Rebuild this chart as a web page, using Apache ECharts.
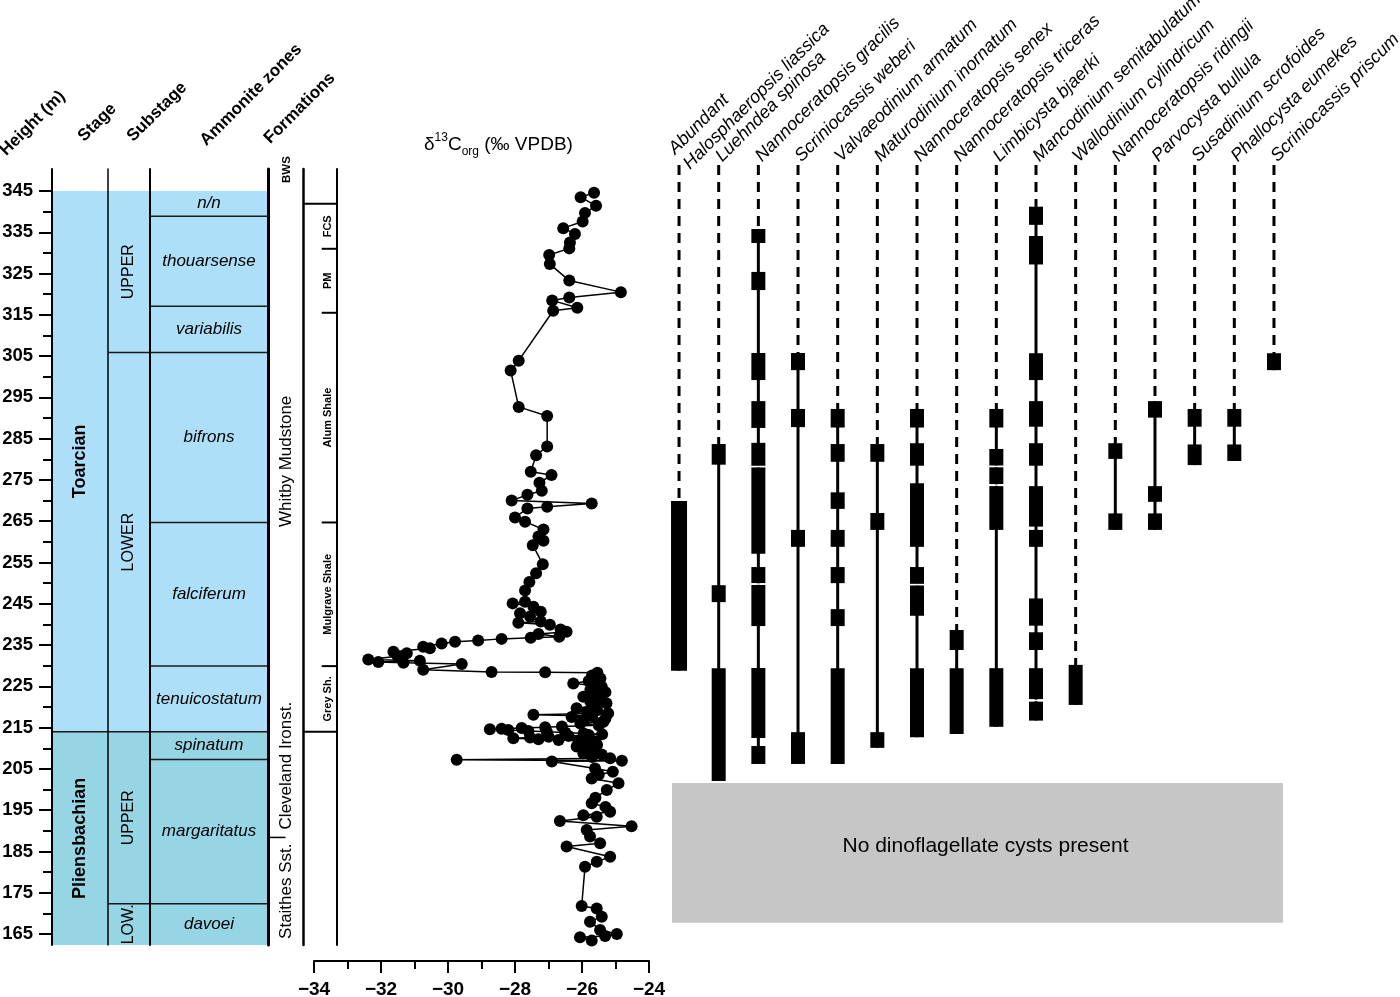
<!DOCTYPE html>
<html><head><meta charset="utf-8">
<script src="https://cdn.jsdelivr.net/npm/echarts@6/dist/echarts.min.js"></script>
<style>html,body{margin:0;padding:0;background:#fff}#c{width:1400px;height:997px}</style>
</head><body><div id="c"></div><script>
// ================= DATA =================
const heightTicks = [165,175,185,195,205,215,225,235,245,255,265,275,285,295,305,315,325,335,345];
const minorHeightTicks = [170,180,190,200,210,220,230,240,250,260,270,280,290,300,310,320,330,340];
const isoTicks = [-34,-32,-30,-28,-26,-24];

// [name, base (m), top (m), stage]
const stages = [
  ['Toarcian', 214, 345, 'Toarcian'],
  ['Pliensbachian', 162.34, 214, 'Pliensbachian']
];
const substages = [
  ['UPPER', 305.9, 345, 'Toarcian'],
  ['LOWER', 214, 305.9, 'Toarcian'],
  ['UPPER', 172.35, 214, 'Pliensbachian'],
  ['LOW.', 162.34, 172.35, 'Pliensbachian']
];
const ammoniteZones = [
  ['n/n', 338.9, 345, 'Toarcian'],
  ['thouarsense', 317.1, 338.9, 'Toarcian'],
  ['variabilis', 305.9, 317.1, 'Toarcian'],
  ['bifrons', 264.7, 305.9, 'Toarcian'],
  ['falciferum', 229.9, 264.7, 'Toarcian'],
  ['tenuicostatum', 214, 229.9, 'Toarcian'],
  ['spinatum', 207.3, 214, 'Pliensbachian'],
  ['margaritatus', 172.35, 207.3, 'Pliensbachian'],
  ['davoei', 162.34, 172.35, 'Pliensbachian']
];
const formations = [
  ['BWS', 345, 350.33],
  ['Whitby Mudstone', 214, 345],
  ['Cleveland Ironst.', 188.4, 214],
  ['Staithes Sst.', 162.34, 188.4]
];
const formationBoundaries = [188.4];
const members = [
  ['FCS', 331, 341.9],
  ['PM', 315.5, 331],
  ['Alum Shale', 264.7, 315.5],
  ['Mulgrave Shale', 229.9, 264.7],
  ['Grey Sh.', 214, 229.9]
];

// δ13Corg samples: height (m) and value (‰ VPDB)
const d13cHeight = [344.6,343.5,341.4,339.7,337.6,336.0,334.6,332.5,331.1,329.5,327.3,323.3,320.5,319.2,318.5,316.7,316.0,
  303.9,301.5,292.7,290.5,283.1,281.0,277.0,276.2,274.3,272.4,271.4,270.0,269.3,268.5,268.1,265.9,264.9,263.0,261.3,260.3,259.2,
  254.6,252.4,250.3,248.2,245.5,245.1,244.3,243.1,242.7,241.9,240.7,240.4,239.9,238.8,238.2,237.7,237.0,236.8,236.5,236.1,235.8,
  235.4,234.6,234.2,233.4,233.0,232.3,231.5,231.2,230.9,230.7,230.4,229.0,228.5,228.4,228.3,227.6,226.9,226.3,225.7,225.2,224.9,
  224.2,223.6,223.0,222.5,221.9,221.3,220.9,220.3,219.7,219.2,218.8,218.5,218.1,217.8,217.6,217.2,216.8,216.4,216.0,215.6,215.3,
  215.1,214.9,214.7,214.6,214.4,214.2,214.0,213.8,213.6,213.4,213.2,213.0,212.8,212.6,212.4,212.2,212.0,211.8,211.6,211.2,210.8,
  210.4,210.0,209.6,209.2,208.8,208.5,207.9,207.6,207.2,207.0,206.8,205.1,204.3,203.6,202.7,201.5,199.9,198.0,196.7,195.8,194.6,
  193.8,193.4,192.4,191.1,190.2,188.6,187.0,186.2,183.7,182.5,181.3,171.8,171.2,169.2,168.0,166.0,165.0,164.5,164.2,163.4];
const d13cValue = [-25.64,-26.04,-25.58,-25.91,-25.98,-26.56,-26.21,-26.36,-26.38,-26.98,-26.96,-26.38,-24.84,-26.38,-26.89,-26.14,-26.86,
  -27.89,-28.13,-27.89,-27.04,-27.04,-27.37,-27.53,-26.91,-27.27,-27.20,-27.63,-28.10,-25.71,-27.04,-27.63,-28.00,-27.70,-27.15,-27.30,-27.15,-27.47,
  -27.17,-27.37,-27.57,-27.70,-27.70,-28.07,-27.45,-27.23,-27.85,-27.55,-27.23,-27.90,-26.96,-26.64,-26.46,-27.30,-26.68,-27.53,-28.40,-29.10,-29.79,
  -30.19,-30.74,-30.54,-31.63,-31.23,-31.50,-32.38,-30.84,-32.08,-31.33,-29.59,-30.74,-28.70,-27.10,-25.54,-25.70,-25.45,-25.80,-26.26,-25.60,-25.41,
  -25.75,-25.30,-25.55,-25.96,-25.45,-25.75,-25.27,-25.60,-26.16,-25.55,-25.85,-25.22,-27.45,-25.70,-26.31,-25.30,-25.95,-25.36,-26.05,-25.50,-26.60,
  -27.10,-27.80,-28.40,-28.75,-28.20,-27.60,-27.05,-26.50,-25.95,-25.40,-25.80,-26.40,-27.00,-27.55,-28.05,-27.30,-26.70,-26.10,-25.60,-25.90,-25.55,
  -26.16,-25.75,-25.95,-25.60,-25.96,-25.41,-25.70,-25.16,-29.74,-24.81,-26.90,-25.61,-25.08,-25.50,-25.71,-24.91,-25.26,-25.60,-25.71,-25.30,-25.16,
  -25.96,-25.56,-26.66,-24.52,-25.86,-25.76,-25.46,-26.46,-25.16,-25.56,-25.91,-26.01,-25.56,-25.41,-25.76,-25.46,-24.96,-25.31,-26.06,-25.71];

// Dinoflagellate cyst taxa and their occurrence intervals [base, top] (m)
const taxa = ['Abundant\nHalosphaeropsis liassica','Luehndea spinosa','Nannoceratopsis gracilis','Scriniocassis weberi',
  'Valvaeodinium armatum','Maturodinium inornatum','Nannoceratopsis senex','Nannoceratopsis triceras','Limbicysta bjaerki',
  'Mancodinium semitabulatum','Wallodinium cylindricum','Nannoceratopsis ridingii','Parvocysta bullula','Susadinium scrofoides',
  'Phallocysta eumekes','Scriniocassis priscum'];
const occurrences = [
  [[228.8,269.9]],
  [[278.7,283.7],[245.4,249.5],[202.1,229.4]],
  [[332.4,335.8],[321.0,325.4],[299.2,305.75],[287.6,294.1],[278.4,284.0],[257.1,278.1],[250.0,253.9],[239.6,249.55],[212.5,229.45],[206.2,210.55]],
  [[301.6,305.75],[287.8,292.2],[258.8,262.9],[206.2,213.9]],
  [[287.7,292.2],[279.4,283.7],[268.0,272.0],[258.8,262.9],[250.0,253.9],[239.6,243.7],[206.2,229.4]],
  [[279.4,283.7],[262.9,267.0],[210.1,213.9]],
  [[287.7,292.2],[278.45,283.9],[258.8,274.2],[249.8,253.9],[242.1,249.5],[212.65,229.4]],
  [[233.8,238.65],[213.45,229.4]],
  [[287.7,292.2],[278.45,282.5],[274.0,278.1],[262.9,273.5],[215.2,229.4]],
  [[336.8,341.2],[327.2,334.1],[299.2,305.7],[287.9,294.1],[278.45,283.9],[263.7,273.5],[258.8,262.9],[239.7,246.3],[233.8,238.1],[221.9,229.4],[216.7,221.3]],
  [[220.5,230.2]],
  [[280.1,283.9],[262.9,266.9]],
  [[290.1,294.1],[269.7,273.5],[262.9,266.9]],
  [[287.9,292.2],[278.6,283.6]],
  [[287.9,292.2],[279.6,283.6]],
  [[301.6,305.7]]
];
const noCystsInterval = [167.7, 201.6];

// ================= LAYOUT / STYLE =================
const FONT = '"Liberation Sans", Arial, Helvetica, sans-serif';
const Y_MIN = 162.34, COL_TOP = 350.33, RANGE_TOP = 351.3;
const STAGE_COLORS = {Toarcian: '#ade0f8', Pliensbachian: '#95d5e4'};
const TOP = 169, BOTTOM = 945, RTOP = 165;

const measureCtx = document.createElement('canvas').getContext('2d');
function textWidth(txt, font) { measureCtx.font = font; return measureCtx.measureText(txt).width; }

const gridDefs = [
  {left:52, width:56, top:TOP, height:BOTTOM-TOP},      // 0 stage
  {left:108, width:42, top:TOP, height:BOTTOM-TOP},     // 1 substage
  {left:150, width:118, top:TOP, height:BOTTOM-TOP},    // 2 ammonite zones
  {left:268, width:35, top:TOP, height:BOTTOM-TOP},     // 3 formations
  {left:303, width:34, top:TOP, height:BOTTOM-TOP},     // 4 members
  {left:314, width:335, top:TOP, height:BOTTOM-TOP},    // 5 d13C
  {left:659.2, width:634.6, top:RTOP, height:BOTTOM-RTOP} // 6 range chart
].map(g => Object.assign({containLabel:false, outerBoundsMode:'none', show:false}, g));

const hiddenX = gi => ({gridIndex:gi, type:'value', min:0, max:1, show:false});
const lineY = (gi, w, pos) => ({gridIndex:gi, type:'value', min:Y_MIN, max:COL_TOP, position:pos||'left',
  axisLine:{show:true, onZero:false, lineStyle:{color:'#000', width:w}}, axisTick:{show:false}, axisLabel:{show:false}, splitLine:{show:false}});

function bandSeries(xi, yi, items, cfg) {
  return {
    type:'custom', xAxisIndex:xi, yAxisIndex:yi, z:-1, silent:true, animation:false,
    data: items.map(d => [0.5, d[1]]),
    renderItem(params, api) {
      const d = items[params.dataIndex];
      const a = api.coord([0, d[2]]), b = api.coord([1, d[1]]);
      const ch = [{type:'rect', shape:{x:a[0], y:a[1], width:b[0]-a[0], height:b[1]-a[1]}, style:{fill:STAGE_COLORS[d[3]]}}];
      if (params.dataIndex > 0) ch.push({type:'line', shape:{x1:a[0], y1:a[1], x2:b[0], y2:a[1]}, style:{stroke:'#1a1a1a', lineWidth:1.5}});
      ch.push({type:'text', x:(a[0]+b[0])/2, y:(a[1]+b[1])/2, rotation: cfg.rotate ? Math.PI/2 : 0,
        style:{text:d[0], fill:'#000', font:cfg.font, textAlign:'center', textVerticalAlign:'middle', align:'center', verticalAlign:'middle'}});
      return {type:'group', children:ch};
    }
  };
}

const formationSeries = {
  type:'custom', xAxisIndex:3, yAxisIndex:4, silent:true, animation:false,
  data: formations.map(d => [0.5, d[1]]),
  renderItem(params, api) {
    const d = formations[params.dataIndex];
    const a = api.coord([0, d[2]]), b = api.coord([1, d[1]]);
    const small = d[0].length < 4;
    const font = small ? 'bold 11.5px ' + FONT : '17px ' + FONT;
    const len = textWidth(d[0], font), span = b[1] - a[1];
    const fits = len + 10 < span;
    const ch = [{type:'text', x:(a[0]+b[0])/2 + 1, y: fits ? (a[1]+b[1])/2 : b[1] - 8, rotation:Math.PI/2,
      style:{text:d[0], fill:'#000', font:font,
        textAlign: fits ? 'center' : 'left', align: fits ? 'center' : 'left', textVerticalAlign:'middle', verticalAlign:'middle'}}];
    if (formationBoundaries.indexOf(d[1]) >= 0) {
      const p = api.coord([0, d[1]]), q = api.coord([0.5, d[1]]);
      ch.push({type:'line', shape:{x1:p[0], y1:p[1], x2:q[0], y2:p[1]}, style:{stroke:'#000', lineWidth:1.5}});
    }
    return {type:'group', children:ch};
  }
};

const memberSeries = {
  type:'custom', xAxisIndex:4, yAxisIndex:5, silent:true, animation:false,
  data: members.map(d => [0.5, d[1]]),
  renderItem(params, api) {
    const i = params.dataIndex, d = members[i];
    const a = api.coord([0, d[2]]), b = api.coord([1, d[1]]);
    const ch = [{type:'text', x:a[0] + (b[0]-a[0])*0.74, y:(a[1]+b[1])/2, rotation:Math.PI/2,
      style:{text:d[0], fill:'#000', font:'bold 11px ' + FONT, textAlign:'center', textVerticalAlign:'middle', align:'center', verticalAlign:'middle'}}];
    const x0 = i === 0 ? a[0] : a[0] + (b[0]-a[0])*0.55;
    ch.push({type:'line', shape:{x1:x0, y1:a[1], x2:b[0], y2:a[1]}, style:{stroke:'#000', lineWidth:2}});
    if (i === members.length - 1) ch.push({type:'line', shape:{x1:a[0], y1:b[1], x2:b[0], y2:b[1]}, style:{stroke:'#000', lineWidth:2}});
    return {type:'group', children:ch};
  }
};

const rangeSeries = {
  type:'custom', xAxisIndex:6, yAxisIndex:8, silent:true, animation:false,
  data: occurrences.map((o, i) => [i, Math.max.apply(null, o.map(p => p[1]))]),
  renderItem(params, api) {
    const i = params.dataIndex, occ = occurrences[i];
    const lo = Math.min.apply(null, occ.map(p => p[0])), hi = Math.max.apply(null, occ.map(p => p[1]));
    const x = api.coord([i, hi])[0];
    const yTop = api.coord([i, RANGE_TOP])[1], yHi = api.coord([i, hi])[1], yLo = api.coord([i, lo])[1];
    const bw = i === 0 ? 16 : 14;
    const ch = [
      {type:'line', shape:{x1:x, y1:yTop, x2:x, y2:yHi}, style:{stroke:'#000', lineWidth:3, lineDash:[10,7]}},
      {type:'line', shape:{x1:x, y1:yHi, x2:x, y2:yLo}, style:{stroke:'#000', lineWidth:3}}
    ];
    occ.forEach(([b, t]) => {
      const y1 = api.coord([i, t])[1], y2 = api.coord([i, b])[1];
      ch.push({type:'rect', shape:{x:x-bw/2, y:y1, width:bw, height:y2-y1}, style:{fill:'#000'}});
    });
    occ.forEach(([b, t]) => {
      occ.forEach(([b2, t2]) => {
        if (b2 >= t - 0.2 && b2 - t < 0.8 && b2 !== b) {
          const ym = (api.coord([i, t])[1] + api.coord([i, b2])[1]) / 2;
          ch.push({type:'line', shape:{x1:x-bw/2, y1:ym, x2:x+bw/2, y2:ym}, style:{stroke:'#fff', lineWidth:1.5}});
        }
      });
    });
    return {type:'group', children:ch};
  }
};

const noCystSeries = {
  type:'custom', xAxisIndex:6, yAxisIndex:8, silent:true, animation:false, z:1,
  data: [[0, noCystsInterval[1]]],
  renderItem(params, api) {
    const cs = params.coordSys;
    const y1 = api.coord([0, noCystsInterval[1]])[1], y2 = api.coord([0, noCystsInterval[0]])[1];
    const x1 = cs.x + 12.8, w = cs.width - 23.6;
    return {type:'group', children:[
      {type:'rect', shape:{x:x1, y:y1, width:w, height:y2-y1}, style:{fill:'#c6c6c6'}},
      {type:'text', x:x1 + w/2 + 8, y:(y1+y2)/2 - 7, style:{text:'No dinoflagellate cysts present', fill:'#000', font:'21px ' + FONT,
        textAlign:'center', textVerticalAlign:'middle', align:'center', verticalAlign:'middle'}}
    ]};
  }
};

function header(text, x, y) {
  return {type:'text', x:x, y:y, rotation:Math.PI/4,
    style:{text:text, fill:'#000', font:'bold 17px ' + FONT, textAlign:'left', textVerticalAlign:'middle', align:'left', verticalAlign:'middle'}};
}

const chart = echarts.init(document.getElementById('c'), null, {renderer:'canvas'});
chart.setOption({
  animation:false,
  backgroundColor:'#fff',
  textStyle:{fontFamily:FONT},
  title:{left:419, top:127, text:'{a|δ}{sup|13}{a|C}{sub|org}{a| (‰ VPDB)}',
    textStyle:{fontWeight:'normal', rich:{
      a:{fontSize:19, fontFamily:FONT, fontWeight:'normal', color:'#000', lineHeight:26, verticalAlign:'middle'},
      sup:{fontSize:12, fontFamily:FONT, fontWeight:'normal', color:'#000', lineHeight:12, verticalAlign:'top'},
      sub:{fontSize:12, fontFamily:FONT, fontWeight:'normal', color:'#000', lineHeight:12, verticalAlign:'bottom'}
    }}},
  graphic:[
    header('Height (m)', 3, 153),
    header('Stage', 81, 139),
    header('Substage', 130, 139),
    header('Ammonite zones', 203, 143),
    header('Formations', 267, 141)
  ],
  grid: gridDefs,
  xAxis:[
    hiddenX(0), hiddenX(1), hiddenX(2), hiddenX(3), hiddenX(4),
    {gridIndex:5, type:'value', min:isoTicks[0], max:isoTicks[isoTicks.length-1], interval:2, position:'bottom', offset:16,
      axisLine:{show:true, onZero:false, lineStyle:{color:'#000', width:2}},
      axisTick:{show:true, length:12, lineStyle:{color:'#000', width:2}},
      minorTick:{show:true, splitNumber:2, length:8, lineStyle:{color:'#000', width:2}},
      axisLabel:{color:'#000', fontSize:19, fontWeight:'bold', margin:19, fontFamily:FONT,
        formatter: v => (v < 0 ? '\u2212' + Math.abs(v) : String(v))},
      splitLine:{show:false}, minorSplitLine:{show:false}},
    {gridIndex:6, type:'value', min:-0.5, max:15.5, show:false},
    {gridIndex:6, type:'category', position:'top', data:taxa, boundaryGap:true,
      axisLine:{show:false}, axisTick:{show:false}, splitLine:{show:false},
      axisLabel:{interval:0, rotate:-45, color:'#000', fontSize:18, fontStyle:'italic', fontFamily:FONT, margin:6, lineHeight:21}}
  ],
  yAxis:[
    {gridIndex:0, type:'value', min:Y_MIN, max:COL_TOP, position:'left',
      axisLine:{show:true, onZero:false, lineStyle:{color:'#000', width:2}},
      axisTick:{show:true, customValues:heightTicks, length:13, lineStyle:{color:'#000', width:2}},
      axisLabel:{show:true, customValues:heightTicks, color:'#000', fontSize:18.5, fontWeight:'bold', margin:19, fontFamily:FONT},
      splitLine:{show:false}},
    {gridIndex:0, type:'value', min:Y_MIN, max:COL_TOP, position:'left',
      axisLine:{show:false, onZero:false}, axisTick:{show:true, customValues:minorHeightTicks, length:9, lineStyle:{color:'#000', width:2}},
      axisLabel:{show:false}, splitLine:{show:false}},
    lineY(1, 1.5), lineY(2, 2), lineY(3, 3), lineY(4, 2.5), lineY(4, 2, 'right'),
    {gridIndex:5, type:'value', min:Y_MIN, max:COL_TOP, show:false},
    {gridIndex:6, type:'value', min:Y_MIN, max:RANGE_TOP, show:false}
  ],
  series:[
    bandSeries(0, 0, stages, {rotate:true, font:'bold 18px ' + FONT}),
    bandSeries(1, 2, substages, {rotate:true, font:'16px ' + FONT}),
    bandSeries(2, 3, ammoniteZones, {rotate:false, font:'italic 17px ' + FONT}),
    formationSeries,
    memberSeries,
    {type:'line', xAxisIndex:5, yAxisIndex:7, data: d13cHeight.map((h, i) => [d13cValue[i], h]),
      symbol:'circle', symbolSize:12, showSymbol:true, showAllSymbol:true, clip:false,
      lineStyle:{color:'#000', width:1.5}, itemStyle:{color:'#000'}, silent:true, animation:false},
    noCystSeries,
    rangeSeries
  ]
});
</script></body></html>
